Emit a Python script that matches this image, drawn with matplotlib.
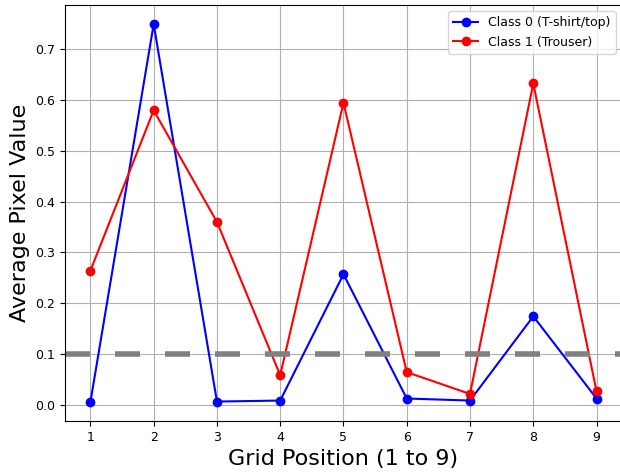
import matplotlib
matplotlib.use('Agg')
import matplotlib.pyplot as plt

positions = [1, 2, 3, 4, 5, 6, 7, 8, 9]
class0 = [0.005, 0.750, 0.006, 0.008, 0.257, 0.012, 0.008, 0.174, 0.012]
class1 = [0.264, 0.580, 0.360, 0.058, 0.595, 0.064, 0.021, 0.633, 0.026]
threshold = 0.1

fig = plt.figure(figsize=(6.2, 4.73), dpi=100)
ax = fig.add_axes([0.105, 0.110, 0.898, 0.879])

ax.plot(positions, class0, marker='o', color='blue', label='Class 0 (T-shirt/top)')
ax.plot(positions, class1, marker='o', color='red', label='Class 1 (Trouser)')
ax.axhline(threshold, color='gray', linewidth=4, dashes=(4.5, 4.5))

ax.set_xticks(positions)
ax.tick_params(labelsize=9)
ax.set_xlabel('Grid Position (1 to 9)', fontsize=16)
ax.set_ylabel('Average Pixel Value', fontsize=16)
ax.grid(True)
ax.legend(fontsize=9, loc='upper right')

fig.savefig('out.png', dpi=100)
